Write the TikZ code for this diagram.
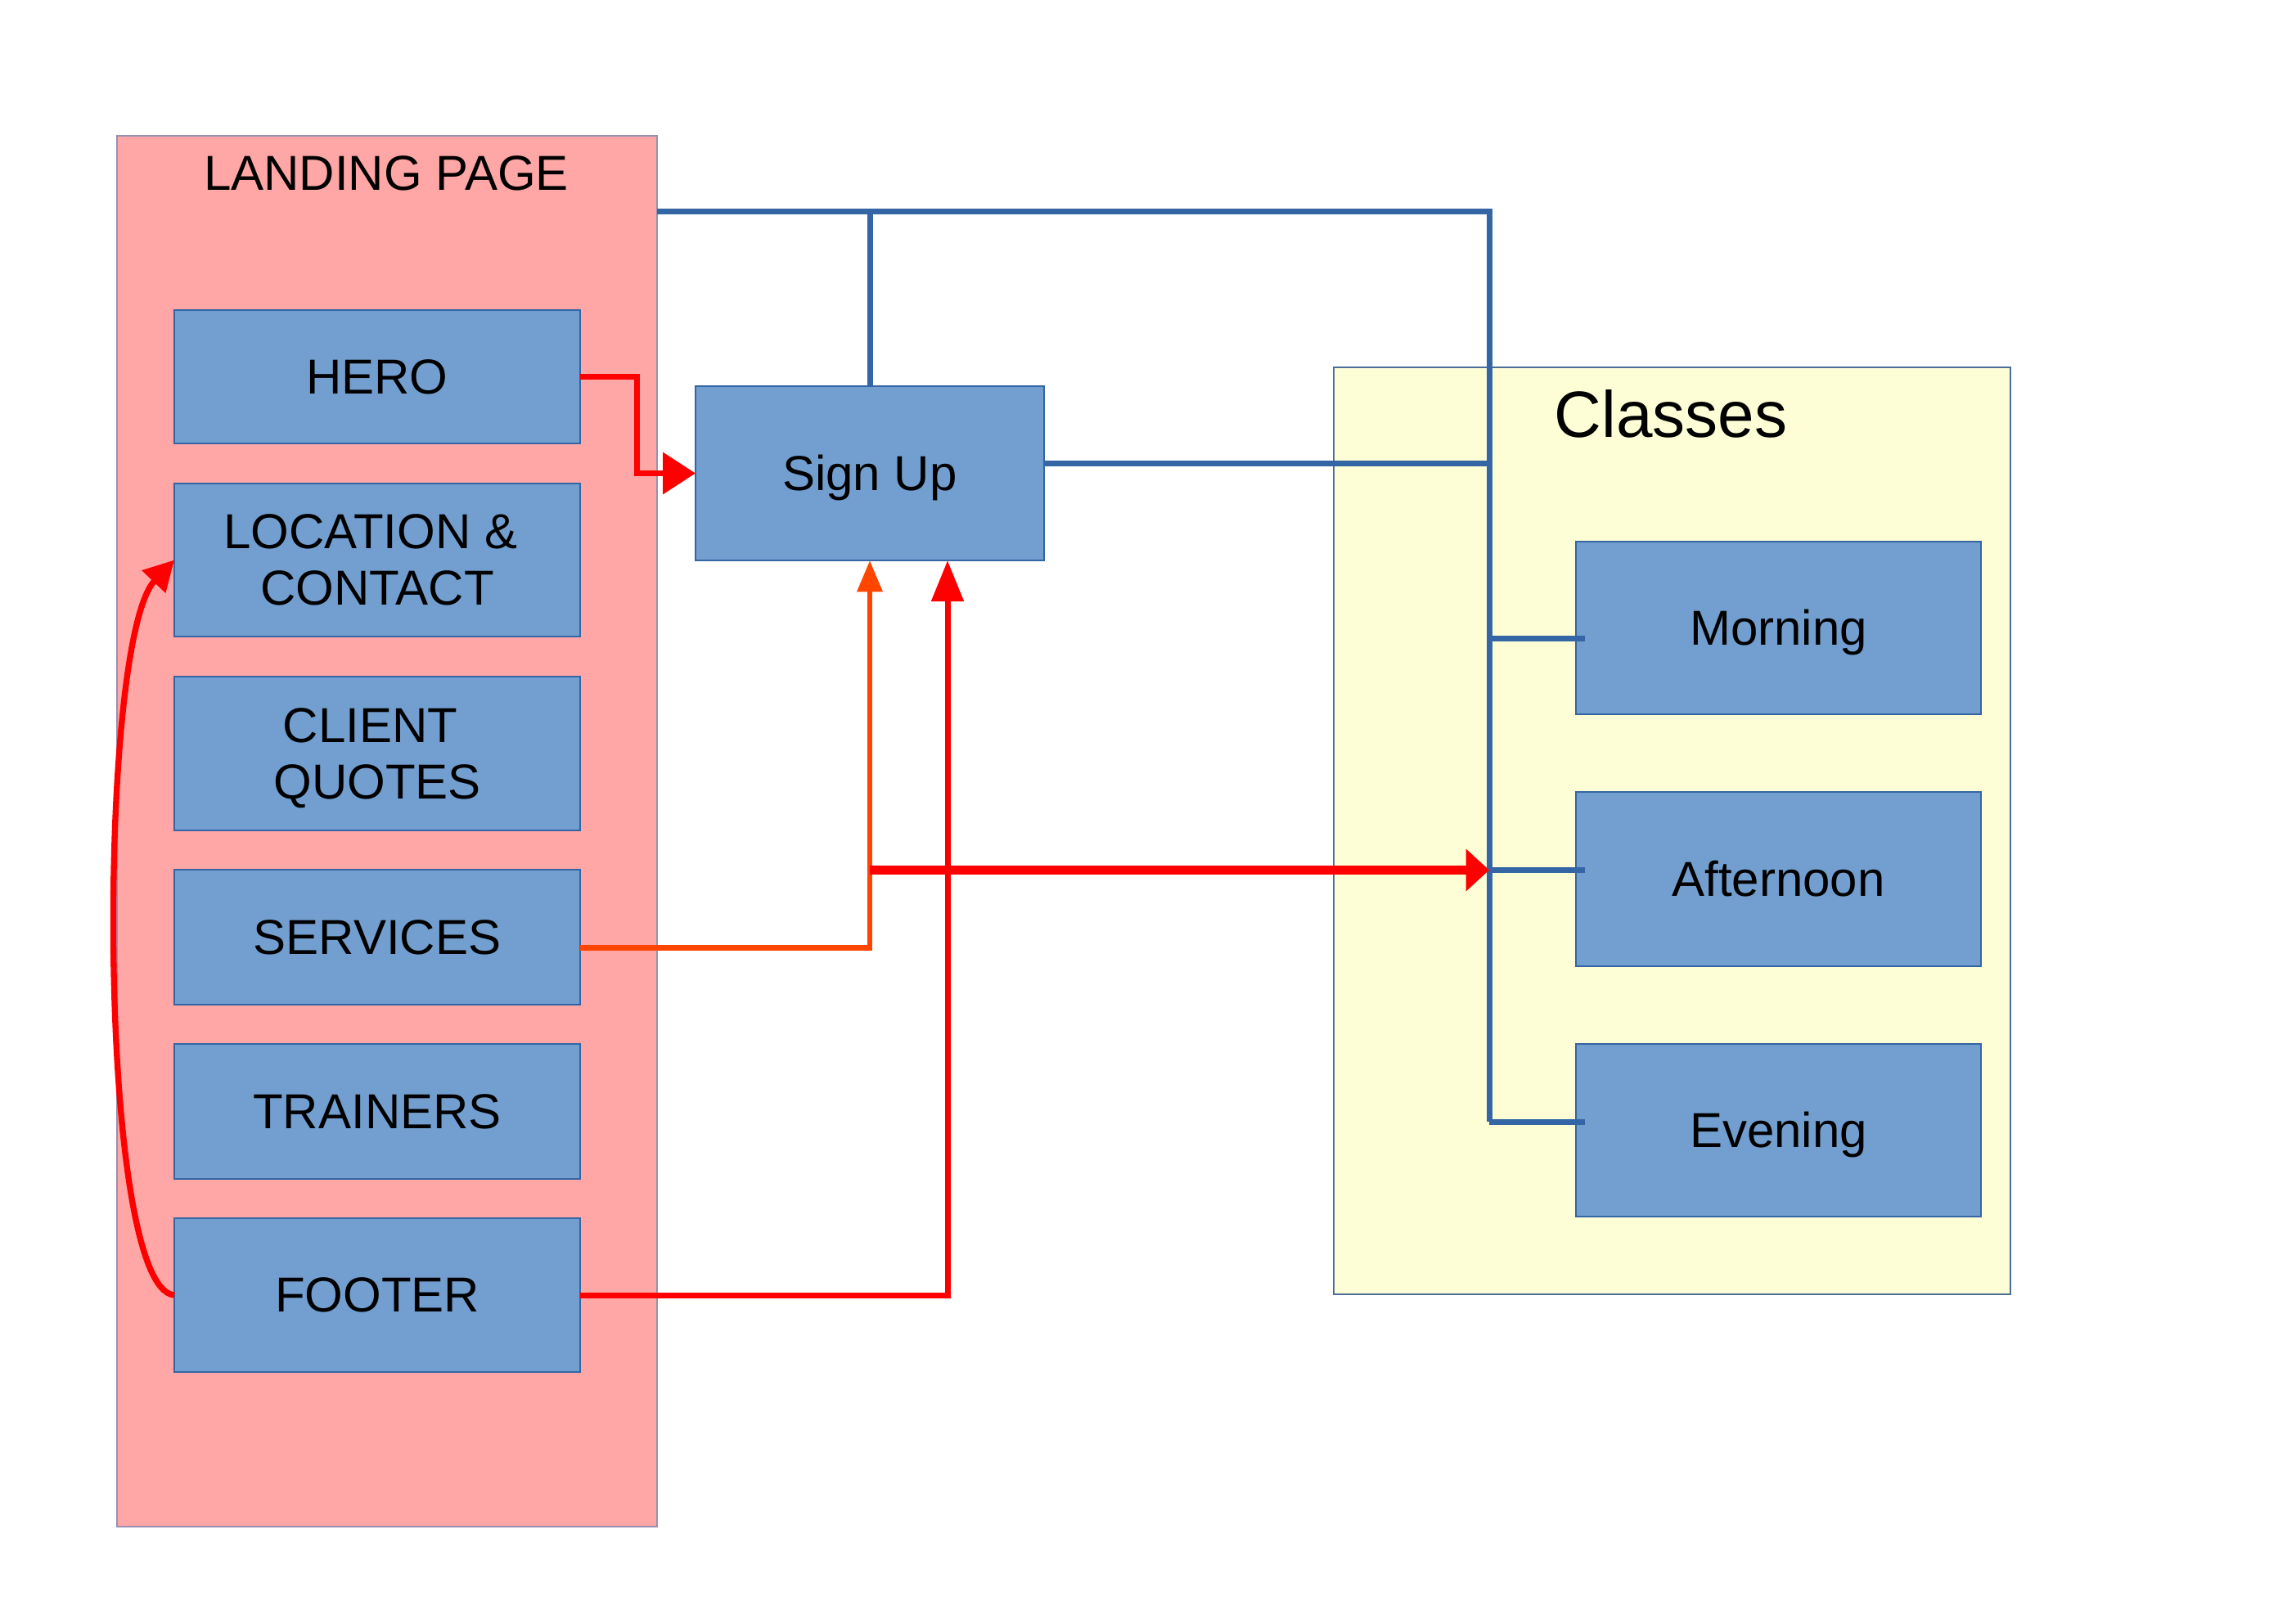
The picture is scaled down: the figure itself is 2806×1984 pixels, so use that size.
\documentclass[tikz,border=0pt]{standalone}
\usepackage{fontspec}
\setmainfont{Liberation Sans}
\usetikzlibrary{arrows.meta,calc}
\definecolor{pinkbg}{HTML}{FFA6A6}
\definecolor{yellowbg}{HTML}{FDFED6}
\definecolor{boxblue}{HTML}{729FCF}
\definecolor{lineblue}{HTML}{3465A4}
\definecolor{orangered}{HTML}{FF4500}
\definecolor{pinkedge}{HTML}{9A8FB0}
\tikzset{
  sz/.style 2 args={minimum width=#1*0.3pt, minimum height=#2*0.3pt},
  box/.style={draw=lineblue, line width=0.4pt, fill=boxblue, inner sep=0pt, outer sep=0pt, anchor=north west, align=center, font=\fontsize{18pt}{20.7pt}\selectfont},
  oneline/.style={text height=16.3pt, text depth=3.8pt},
  container/.style={inner sep=0pt, outer sep=0pt, anchor=north west, line width=0.4pt},
  blueline/.style={draw=lineblue, line width=2.1pt},
  redline/.style={draw=red, line width=2.1pt},
  orline/.style={draw=orangered, line width=2pt},
}
\begin{document}
\begin{tikzpicture}[x=0.3pt,y=-0.3pt]
\useasboundingbox (0,0) rectangle (2806,1984);
% containers
\node[container, draw=pinkedge, fill=pinkbg, sz={660}{1700}] (landing) at (143,166) {};
\node[font=\fontsize{18pt}{20.7pt}\selectfont, inner sep=0pt] (landingtitle) at (472,212) {LANDING PAGE};
\node[container, draw=lineblue!70!gray, fill=yellowbg, sz={827}{1133}] (classes) at (1630,449) {};
\node[font=\fontsize{24pt}{28pt}\selectfont, inner sep=0pt] (classestitle) at (2042,506) {Classes};
% landing page boxes
\node[box, oneline, sz={496}{163}] (hero) at (213,379) {HERO};
\node[box, sz={496}{187}] (loc) at (213,591) {LOCATION \&\kern0.278em\\CONTACT};
\node[box, sz={496}{188}] (client) at (213,827) {CLIENT\kern0.278em\\\raisebox{0pt}[\height][0pt]{QUOTES}};
\node[box, oneline, sz={496}{165}] (services) at (213,1063) {SERVICES};
\node[box, oneline, sz={496}{165}] (trainers) at (213,1276) {TRAINERS};
\node[box, oneline, sz={496}{188}] (footer) at (213,1489) {FOOTER};
% sign up
\node[box, oneline, sz={426}{213}] (signup) at (850,472) {Sign Up};
% classes boxes
\node[box, oneline, sz={495}{211}] (morning) at (1926,662) {Morning};
\node[box, oneline, sz={495}{213}] (afternoon) at (1926,968) {Afternoon};
\node[box, oneline, sz={495}{211}] (evening) at (1926,1276) {Evening};
% bus coordinates
\coordinate (bustop) at (1820,259);
\coordinate (busbot) at (1820,1371);
% blue connectors
\draw[blueline] (landing.east |- bustop) -- (bustop) -- (busbot);
\draw[blueline] (signup.north) -- (signup.north |- bustop);
\draw[blueline] ([yshift=3.5pt]signup.east) -- ([yshift=3.5pt]signup.east -| bustop);
\draw[blueline] ([yshift=-3.9pt]bustop |- morning.west) -- ([xshift=3.3pt,yshift=-3.9pt]morning.west);
\draw[blueline] ([yshift=3.3pt]bustop |- afternoon.west) -- ([xshift=3.3pt,yshift=3.3pt]afternoon.west);
\draw[blueline] ([yshift=3pt]bustop |- evening.west) -- ([xshift=3.3pt,yshift=3pt]evening.west);
% red/orange connectors
\draw[redline, -{Triangle[length=12pt,width=15pt]}] (hero.east) -- ++(69,0) |- (signup.west);
\draw[orline, -{Triangle[length=11.5pt,width=9pt]}] ([yshift=-3.8pt]services.east) -| (signup.south);
\draw[red, line width=3.2pt, -{Triangle[length=8.5pt,width=15pt]}] ([yshift=3.3pt]signup.south |- afternoon.west) -- ([yshift=3.3pt]bustop |- afternoon.west);
\draw[redline, -{Triangle[length=15pt,width=11.5pt]}] (footer.east) -| ([xshift=28.5pt]signup.south);
\draw[red, line width=2.2pt, -{Triangle[length=11pt,width=11.5pt]}] (footer.west) .. controls +(-95,-8) and +(-95,100) .. (loc.west);
\end{tikzpicture}
\end{document}
